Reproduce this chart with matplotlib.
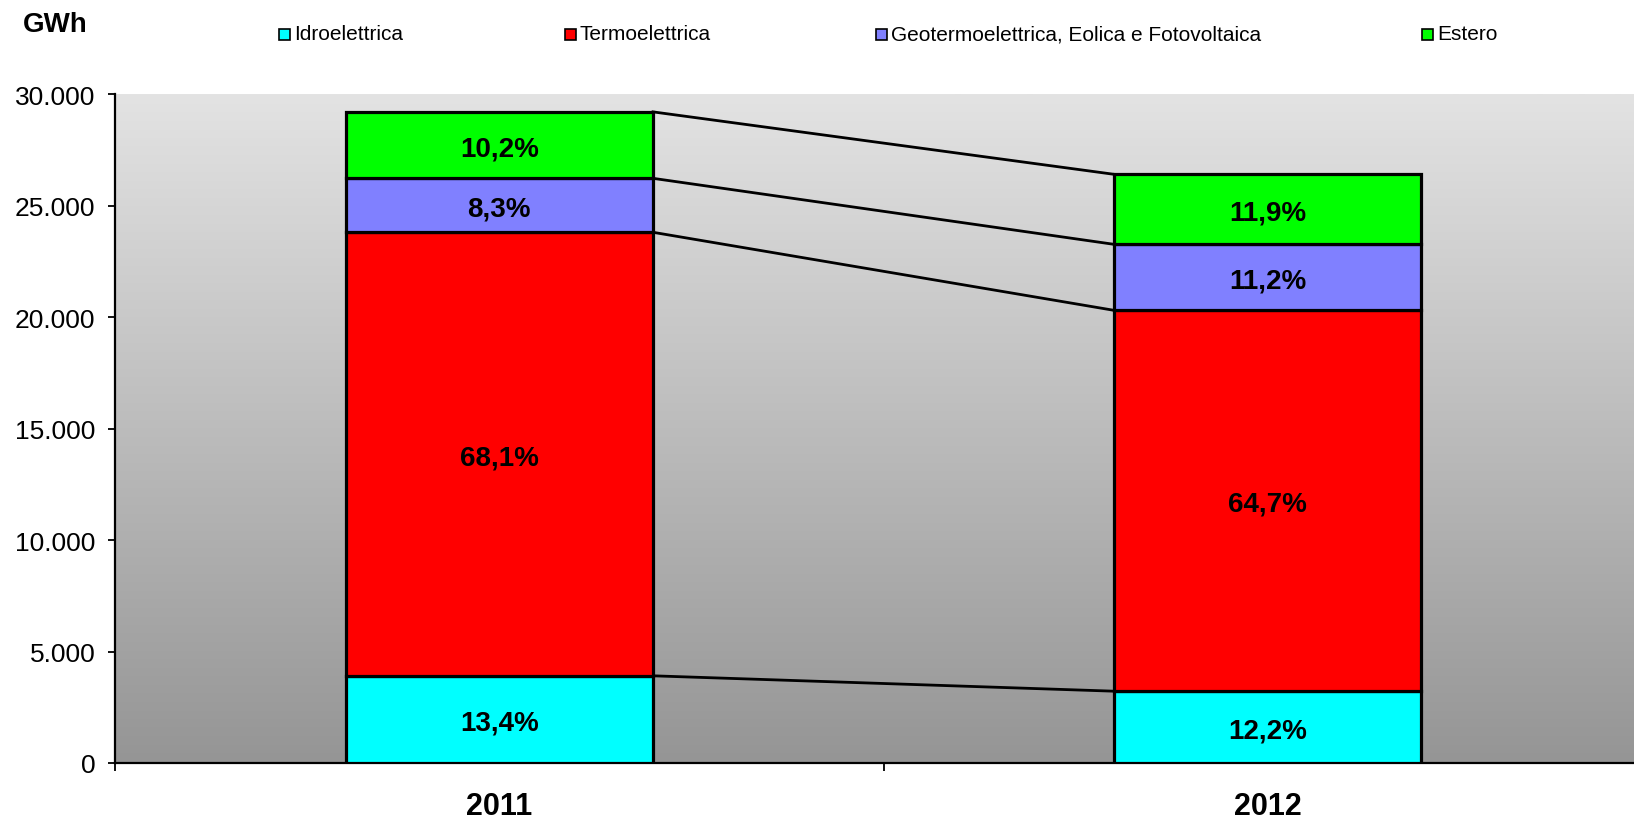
import matplotlib.pyplot as plt
import numpy as np
from matplotlib.colors import LinearSegmentedColormap
from matplotlib.patches import Rectangle
from matplotlib.ticker import FuncFormatter

plt.rcParams['font.family'] = ['Liberation Sans', 'DejaVu Sans']

# data (GWh)
years = ['2011', '2012']
series = ['Idroelettrica', 'Termoelettrica',
          'Geotermoelettrica, Eolica e Fotovoltaica', 'Estero']
idro = [3910, 3220]
termo = [19890, 17080]
geo = [2420, 2960]
estero = [2980, 3140]
pct_labels = [['13,4%', '12,2%'], ['68,1%', '64,7%'],
              ['8,3%', '11,2%'], ['10,2%', '11,9%']]
colors = ['#00ffff', '#ff0000', '#8080ff', '#00ff00']

fig = plt.figure(figsize=(16.34, 8.2), dpi=100)
ax = fig.add_axes([0.0704, 0.0683, 0.9406, 0.8158])

# grey gradient background
cmap = LinearSegmentedColormap.from_list('bg', ['#959595', '#e3e3e3'])
ax.imshow(np.linspace(1, 0, 256).reshape(-1, 1), cmap=cmap, aspect='auto',
          extent=(-0.5, 1.5, 0, 30000), zorder=0)

x = np.arange(len(years))
w = 0.4
bottom = np.zeros(len(years))
tops = []
for vals, col, labs in zip([idro, termo, geo, estero], colors, pct_labels):
    vals = np.array(vals, dtype=float)
    ax.bar(x, vals, w, bottom=bottom, color=col, edgecolor='black',
           linewidth=2.3, zorder=3)
    for xi, b, v, lab in zip(x, bottom, vals, labs):
        ax.text(xi, b + v / 2, lab, ha='center', va='center_baseline',
                fontsize=20, fontweight='bold', zorder=4)
    bottom = bottom + vals
    tops.append(bottom.copy())

# connector lines between the two stacks
for t in tops:
    ax.plot([x[0] + w / 2, x[1] - w / 2], [t[0], t[1]], color='black',
            lw=2.0, zorder=2)

ax.set_xlim(-0.5, 1.5)
ax.set_ylim(0, 30000)
ax.set_yticks(range(0, 30001, 5000))
ax.yaxis.set_major_formatter(FuncFormatter(lambda v, p: f"{int(v):,}".replace(',', '.')))
ax.tick_params(axis='y', length=5, width=1.3, labelsize=19, pad=9)

ax.set_xticks([-0.5, 0.5, 1.5])
ax.set_xticklabels([])
ax.tick_params(axis='x', which='major', length=6, width=1.3)
ax.set_xticks(x, minor=True)
ax.set_xticklabels(years, minor=True, fontsize=22, fontweight='bold')
ax.tick_params(axis='x', which='minor', length=0, pad=20)

for s in ['top', 'right']:
    ax.spines[s].set_visible(False)
for s in ['left', 'bottom']:
    ax.spines[s].set_linewidth(1.6)

fig.text(0.034, 0.970, 'GWh', ha='center', va='center',
         fontsize=20, fontweight='bold')

# legend laid out like the original (Excel style)
W, H = fig.get_size_inches() * fig.dpi
leg_x = [279, 565, 876, 1422]
for lx, name, col in zip(leg_x, series, colors):
    fig.add_artist(Rectangle((lx / W, 1 - 41 / H), 11 / W, 11 / H,
                             transform=fig.transFigure, facecolor=col,
                             edgecolor='black', linewidth=1.2))
    fig.text((lx + 15) / W, 1 - 35 / H, name, ha='left', va='center',
             fontsize=15)

fig.savefig('out.png', dpi=100)
